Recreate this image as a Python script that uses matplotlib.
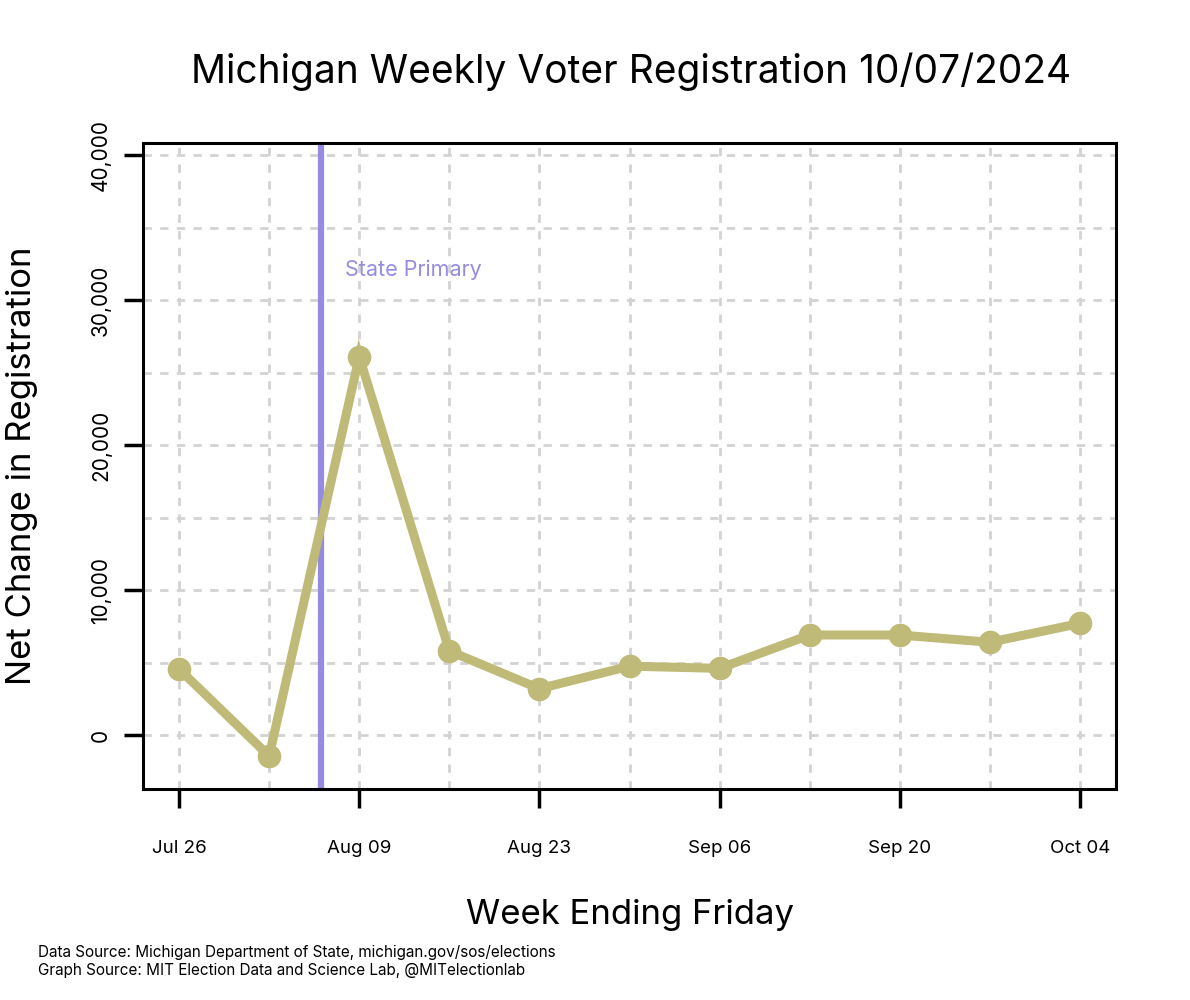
import matplotlib
matplotlib.use("Agg")
import matplotlib.pyplot as plt
import matplotlib.dates as mdates
import numpy as np
from datetime import datetime, timedelta

plt.rcParams['font.family'] = ['Inter', 'DejaVu Sans']

semaines = [datetime(2024, 7, 26) + timedelta(days=7 * i) for i in range(11)]
variation = [4550, -1450, 26100, 5800, 3200, 4750, 4600, 6900, 6900, 6400, 7700]
date_primaire = datetime(2024, 8, 6)
ticks_y = [0, 10000, 20000, 30000, 40000]
ticks_x = semaines[::2]

couleur_ligne = '#bfba77'
couleur_primaire = '#958ce2'

fig = plt.figure(figsize=(11.9, 10), dpi=100)
ax = fig.add_axes([0.1202, 0.211, 0.8176, 0.646])

x = mdates.date2num(semaines)
pas = x[1] - x[0]
ax.set_xlim(x[0] - 0.4 * pas, x[-1] + 0.4 * pas)
ax.set_ylim(-3720, 40830)

# grille
for xv in x:
    ax.axvline(xv, color='#d3d3d3', lw=2, ls=(0, (3, 3)), zorder=0)
for yv in np.arange(0, 40001, 5000):
    ax.axhline(yv, color='#d3d3d3', lw=2, ls=(0, (3, 3)), zorder=0)

ax.axvline(mdates.date2num(date_primaire), color=couleur_primaire, lw=4.5, zorder=1)
ax.text(mdates.date2num(date_primaire) + 0.27 * pas, 32100, 'State Primary',
        color=couleur_primaire, fontsize=15.5, va='center', ha='left')

ax.plot(x, variation, color=couleur_ligne, lw=6.5, marker='o', markersize=16,
        zorder=3, solid_joinstyle='miter')

ax.set_xticks(mdates.date2num(ticks_x))
ax.set_xticklabels([d.strftime('%b %d') for d in ticks_x], fontsize=13.5)
ax.set_yticks(ticks_y)
ax.set_yticklabels([f'{v:,}' for v in ticks_y], fontsize=15, rotation=90, va='center')
ax.tick_params(axis='x', length=14, width=2.5, pad=23)
ax.tick_params(axis='y', length=14, width=2.5, pad=9)

for s in ax.spines.values():
    s.set_linewidth(2.2)

ax.set_ylabel('Net Change in Registration', fontsize=25, labelpad=38)
ax.set_xlabel('Week Ending Friday', fontsize=25, labelpad=30)
fig.text(0.53, 0.928, 'Michigan Weekly Voter Registration 10/07/2024',
         fontsize=28, ha='center', va='center')
fig.text(0.032, 0.047, 'Data Source: Michigan Department of State, michigan.gov/sos/elections',
         fontsize=11, va='center')
fig.text(0.032, 0.030, 'Graph Source: MIT Election Data and Science Lab, @MITelectionlab',
         fontsize=11, va='center')

fig.savefig('out.png', dpi=100)
